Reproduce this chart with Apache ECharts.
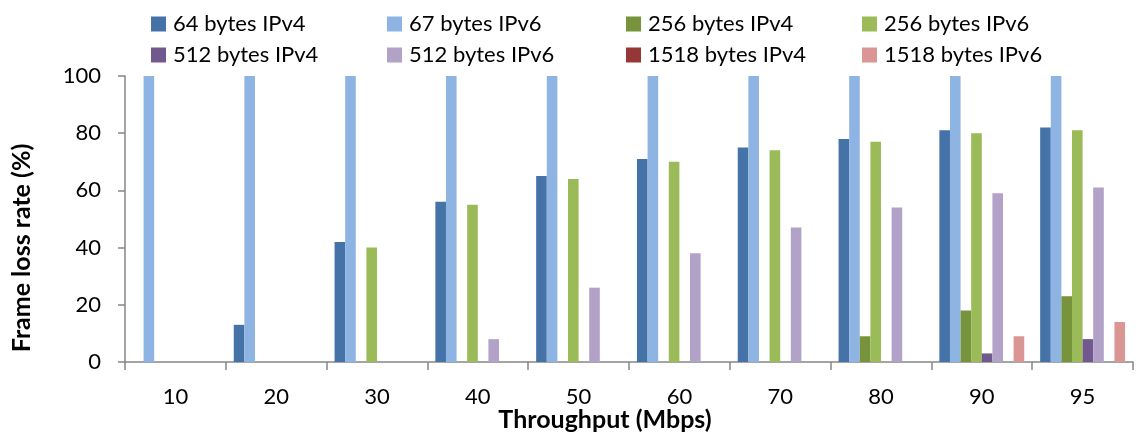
<!DOCTYPE html>
<html>
<head>
<meta charset="utf-8">
<script src="https://cdn.jsdelivr.net/npm/echarts@6/dist/echarts.min.js"></script>
<style>
  html, body { margin: 0; padding: 0; background: #fff; }
  #chart { width: 1140px; height: 434px; }
</style>
</head>
<body>
<div id="chart"></div>
<script>
// Throughput categories (Mbps)
const categories = ['10', '20', '30', '40', '50', '60', '70', '80', '90', '95'];

// Frame loss rate (%) per frame size / IP version
const ipv4_64   = [0, 13, 42, 56, 65, 71, 75, 78, 81, 82];
const ipv6_67   = [100, 100, 100, 100, 100, 100, 100, 100, 100, 100];
const ipv4_256  = [0, 0, 0, 0, 0, 0, 0, 9, 18, 23];
const ipv6_256  = [0, 0, 40, 55, 64, 70, 74, 77, 80, 81];
const ipv4_512  = [0, 0, 0, 0, 0, 0, 0, 0, 3, 8];
const ipv6_512  = [0, 0, 0, 8, 26, 38, 47, 54, 59, 61];
const ipv4_1518 = [0, 0, 0, 0, 0, 0, 0, 0, 0, 0];
const ipv6_1518 = [0, 0, 0, 0, 0, 0, 0, 0, 9, 14];

const yTicks = { min: 0, max: 100, interval: 20 };

const seriesDefs = [
  { name: '64 bytes IPv4',   data: ipv4_64,   color: '#4572A7' },
  { name: '67 bytes IPv6',   data: ipv6_67,   color: '#8EB4E3' },
  { name: '256 bytes IPv4',  data: ipv4_256,  color: '#77933C' },
  { name: '256 bytes IPv6',  data: ipv6_256,  color: '#9BBB59' },
  { name: '512 bytes IPv4',  data: ipv4_512,  color: '#71588F' },
  { name: '512 bytes IPv6',  data: ipv6_512,  color: '#B3A2C7' },
  { name: '1518 bytes IPv4', data: ipv4_1518, color: '#953735' },
  { name: '1518 bytes IPv6', data: ipv6_1518, color: '#D99694' }
];

const FONT = 'Lato, "Liberation Sans", sans-serif';
const axisGray = '#868686';

// Legend laid out as a 4-column grid, two rows
const legendCols = [151, 387, 626, 862];
const legendRows = [12, 43];

const legends = seriesDefs.map((s, i) => ({
  data: [s.name],
  left: legendCols[i % 4],
  top: legendRows[Math.floor(i / 4)],
  padding: 0,
  itemWidth: 15,
  itemHeight: 15,
  icon: 'rect',
  selectedMode: false,
  textStyle: { fontFamily: FONT, fontSize: 22, color: '#000', lineHeight: 24, padding: [0, 0, 0, 2] }
}));

const chart = echarts.init(document.getElementById('chart'), null, { renderer: 'canvas' });

chart.setOption({
  animation: false,
  backgroundColor: '#fff',
  legend: legends,
  grid: { left: 125, right: 7, top: 76, bottom: 72, containLabel: false, outerBoundsMode: 'none' },
  xAxis: {
    type: 'category',
    data: categories,
    name: 'Throughput (Mbps)',
    nameLocation: 'middle',
    nameGap: 45,
    nameMoveOverlap: false,
    // right padding nudges the title a little left of the plot centre
    nameTextStyle: { fontFamily: FONT, fontSize: 25, fontWeight: 'bold', color: '#000', padding: [0, 48, 0, 0] },
    axisLine: { lineStyle: { color: axisGray, width: 1.5 } },
    axisTick: { show: true, length: 8, interval: 0, lineStyle: { color: axisGray, width: 1.5 } },
    axisLabel: { fontFamily: FONT, fontSize: 22, color: '#000', margin: 24, interval: 0 },
    splitLine: { show: false }
  },
  yAxis: {
    type: 'value',
    min: yTicks.min,
    max: yTicks.max,
    interval: yTicks.interval,
    name: 'Frame loss rate (%)',
    nameLocation: 'middle',
    nameGap: 91,
    nameMoveOverlap: false,
    // right padding moves the rotated title slightly below the axis centre
    nameTextStyle: { fontFamily: FONT, fontSize: 25, fontWeight: 'bold', color: '#000', padding: [0, 58, 0, 0] },
    axisLine: { show: true, lineStyle: { color: axisGray, width: 1.5 } },
    axisTick: { show: true, length: 7, lineStyle: { color: axisGray, width: 1.5 } },
    axisLabel: { fontFamily: FONT, fontSize: 22, color: '#000', margin: 24 },
    splitLine: { show: false }
  },
  series: seriesDefs.map(s => ({
    name: s.name,
    type: 'bar',
    data: s.data,
    barGap: '0%',
    barCategoryGap: '15.8%',
    itemStyle: { color: s.color }
  }))
});
</script>
</body>
</html>
